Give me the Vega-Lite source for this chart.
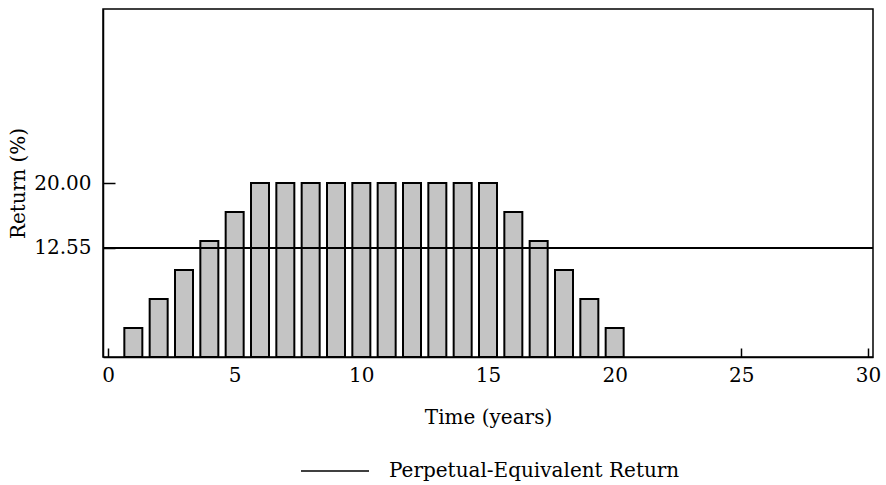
{
  "$schema": "https://vega.github.io/schema/vega-lite/v6.json",
  "width": 770,
  "height": 348,
  "autosize": "none",
  "padding": {"left": 103, "top": 9, "right": 13, "bottom": 128},
  "background": "white",
  "config": {
    "font": "DejaVu Serif",
    "view": {"stroke": "black", "strokeWidth": 1.5},
    "axis": {"domainColor": "black", "domainWidth": 1.5, "tickColor": "black", "tickWidth": 1.5, "labelColor": "black", "titleColor": "black", "labelFont": "DejaVu Serif", "titleFont": "DejaVu Serif", "labelFontSize": 20, "titleFontSize": 20, "titleFontWeight": "normal", "grid": false}
  },
  "data": {"values": [
    {"year": 1, "ret": 3.33}, {"year": 2, "ret": 6.67}, {"year": 3, "ret": 10.0}, {"year": 4, "ret": 13.33}, {"year": 5, "ret": 16.67},
    {"year": 6, "ret": 20.0}, {"year": 7, "ret": 20.0}, {"year": 8, "ret": 20.0}, {"year": 9, "ret": 20.0}, {"year": 10, "ret": 20.0},
    {"year": 11, "ret": 20.0}, {"year": 12, "ret": 20.0}, {"year": 13, "ret": 20.0}, {"year": 14, "ret": 20.0}, {"year": 15, "ret": 20.0},
    {"year": 16, "ret": 16.67}, {"year": 17, "ret": 13.33}, {"year": 18, "ret": 10.0}, {"year": 19, "ret": 6.67}, {"year": 20, "ret": 3.33}
  ]},
  "layer": [
    {
      "mark": {"type": "bar", "width": 18, "fill": "#c4c4c4", "stroke": "black", "strokeWidth": 2},
      "encoding": {
        "x": {"field": "year", "type": "quantitative", "scale": {"domain": [0, 30], "nice": false}, "axis": {"values": [0, 5, 10, 15, 20, 25, 30], "tickSize": -9, "labelPadding": 17, "title": "Time (years)", "titlePadding": 22, "labelFlush": false}},
        "y": {"field": "ret", "type": "quantitative", "scale": {"domain": [0, 40], "nice": false}, "axis": {"values": [12.55, 20], "format": ".2f", "tickSize": -12, "labelPadding": 24, "title": "Return (%)", "titlePadding": 5}}
      }
    },
    {
      "mark": {"type": "rule", "strokeWidth": 1.5},
      "encoding": {
        "y": {"datum": 12.55},
        "stroke": {"datum": "Perpetual-Equivalent Return", "type": "nominal", "scale": {"range": ["black"]}, "legend": {"title": null, "orient": "none", "legendX": 197, "legendY": 427, "symbolType": "stroke", "symbolSize": 4624, "symbolStrokeWidth": 1.5, "labelFontSize": 20, "labelFont": "DejaVu Serif", "labelColor": "black", "labelOffset": 19, "labelLimit": 500, "padding": 0}}
      }
    }
  ]
}
